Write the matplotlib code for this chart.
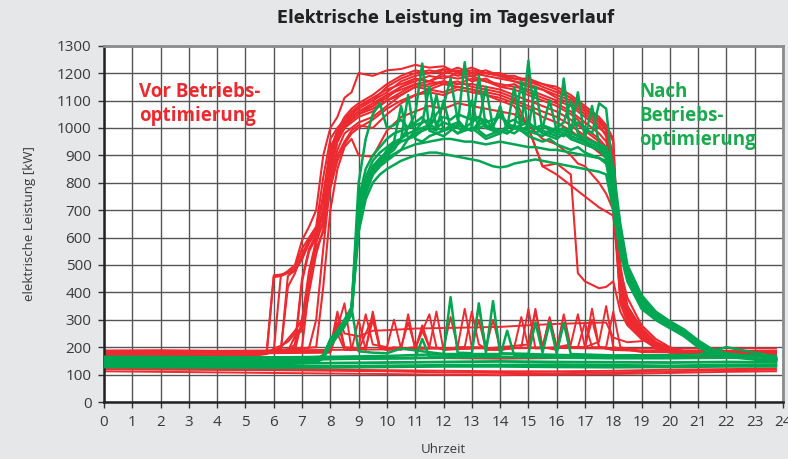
import matplotlib.pyplot as plt
import matplotlib.font_manager as fm

# colours
RED = '#ec2a2f'
GREEN = '#00a651'
BG = '#e6e7e9'

# ---------------- data (kW over the day) ----------------
# red = "Vor Betriebsoptimierung", workday profiles on a shared time grid
red_work_hours = [0, 3, 5.5, 5.75, 6, 6.25, 6.5, 6.75, 7, 7.25,
                  7.5, 7.75, 8, 8.25, 8.5, 8.75, 9, 9.5, 10, 10.5,
                  11, 11.5, 12, 12.5, 13, 13.5, 14, 14.5, 15, 15.5,
                  16, 16.5, 16.75, 17, 17.5, 17.75, 18, 18.25, 18.5, 19,
                  19.5, 20, 20.5, 21, 22, 23.75]
red_work_values = [
    [178, 176, 180, 185, 462, 465, 472, 490, 560, 600, 640, 820, 960, 1000, 1030, 1060, 1080, 1110, 1140, 1160,
     1180, 1170, 1190, 1180, 1190, 1170, 1160, 1150, 1140, 1120, 1100, 1080, 1060, 1040, 1000, 980, 700, 380, 320, 240,
     200, 185, 180, 178, 180, 178],
    [172, 170, 174, 176, 455, 460, 470, 480, 520, 580, 620, 760, 930, 980, 1010, 1040, 1060, 1090, 1120, 1150,
     1170, 1190, 1180, 1200, 1170, 1180, 1150, 1160, 1130, 1110, 1090, 1060, 1040, 1020, 980, 950, 860, 420, 330, 260,
     210, 190, 175, 172, 174, 172],
    [182, 182, 182, 180, 185, 190, 420, 470, 540, 590, 620, 700, 900, 980, 1020, 1050, 1070, 1100, 1130, 1170,
     1190, 1200, 1210, 1190, 1200, 1190, 1180, 1170, 1160, 1140, 1120, 1100, 1080, 1060, 1020, 990, 820, 400, 300, 240,
     195, 180, 178, 176, 182, 180],
    [176, 175, 178, 180, 185, 188, 190, 210, 450, 560, 610, 680, 880, 960, 1000, 1030, 1050, 1080, 1110, 1150,
     1180, 1170, 1200, 1210, 1190, 1200, 1190, 1170, 1150, 1140, 1110, 1090, 1070, 1050, 1010, 970, 760, 360, 290, 230,
     200, 185, 180, 176, 178, 176],
    [170, 168, 172, 175, 195, 205, 220, 250, 270, 400, 540, 630, 820, 920, 980, 1000, 1020, 1040, 1080, 1120,
     1150, 1160, 1170, 1160, 1180, 1170, 1150, 1140, 1120, 1100, 1080, 1050, 1030, 1000, 960, 930, 880, 480, 380, 280,
     230, 200, 185, 172, 170, 168],
    [184, 183, 185, 186, 188, 190, 192, 195, 195, 198, 300, 560, 800, 900, 950, 990, 1010, 1000, 1050, 1090,
     1120, 1140, 1130, 1150, 1140, 1130, 1120, 1100, 1080, 1060, 1040, 1010, 990, 970, 940, 920, 900, 500, 350, 260,
     210, 190, 185, 184, 185, 183],
    [180, 178, 180, 182, 185, 460, 478, 500, 590, 640, 700, 900, 1000, 1040, 1110, 1130, 1200, 1190, 1210, 1215,
     1230, 1220, 1225, 1200, 1210, 1200, 1190, 1180, 1170, 1150, 1130, 1110, 1090, 1070, 1030, 1000, 900, 450, 340, 250,
     205, 188, 182, 180, 181, 180],
    [175, 174, 176, 178, 180, 182, 185, 190, 200, 420, 600, 700, 860, 950, 1000, 1030, 1050, 1070, 1100, 1120,
     1150, 1140, 1160, 1150, 1140, 1120, 1100, 1080, 1000, 860, 870, 830, 470, 440, 415, 420, 440, 330, 280, 230,
     200, 185, 178, 175, 176, 175],
    [186, 185, 186, 186, 188, 190, 192, 194, 196, 198, 200, 420, 700, 850, 930, 960, 900, 895, 990, 1040,
     1060, 1080, 1070, 1090, 1080, 1070, 1060, 1050, 1010, 960, 940, 900, 870, 860, 800, 760, 700, 420, 340, 250,
     205, 190, 186, 186, 185, 186],
    [178, 177, 179, 180, 182, 184, 186, 240, 260, 430, 580, 660, 880, 970, 1010, 1040, 1060, 1080, 1120, 1140,
     1160, 1170, 1160, 1170, 1150, 1140, 1130, 1110, 1000, 860, 830, 790, 770, 750, 710, 695, 680, 450, 330, 260,
     215, 195, 182, 178, 179, 178],
    [174, 173, 175, 178, 180, 183, 460, 480, 530, 590, 630, 740, 920, 990, 1020, 1050, 1080, 1100, 1150, 1180,
     1200, 1210, 1200, 1220, 1200, 1210, 1190, 1190, 1170, 1160, 1140, 1110, 1090, 1070, 1030, 1000, 950, 420, 320, 250,
     200, 185, 176, 174, 175, 173],
    [180, 180, 181, 182, 184, 186, 188, 192, 440, 550, 600, 650, 840, 950, 1000, 1020, 1040, 1060, 1100, 1130,
     1160, 1150, 1170, 1160, 1160, 1150, 1140, 1120, 1100, 1080, 1060, 1030, 1010, 990, 950, 920, 900, 380, 300, 235,
     195, 182, 180, 180, 181, 180],
    [176, 175, 177, 178, 180, 182, 185, 188, 300, 480, 590, 700, 910, 990, 1040, 1070, 1090, 1120, 1160, 1190,
     1210, 1200, 1215, 1205, 1220, 1200, 1200, 1180, 1180, 1160, 1150, 1120, 1100, 1080, 1040, 1010, 960, 440, 350, 270,
     220, 195, 180, 176, 177, 176],
    [181, 180, 182, 183, 186, 200, 230, 260, 300, 450, 560, 620, 780, 880, 940, 980, 1000, 1030, 1070, 1100,
     1120, 1130, 1120, 1140, 1130, 1120, 1110, 1090, 1070, 1040, 1020, 990, 970, 950, 910, 890, 860, 400, 310, 245,
     205, 188, 182, 181, 182, 181],
]

# red weekend / holiday days (spiky, low)
red_weekend_hours = [
    [0, 6, 7.75, 8, 8.25, 8.5, 8.75, 9, 9.25, 9.5, 9.75, 10, 10.25, 10.5, 10.75, 11, 11.25, 11.5, 11.75, 12, 12.5,
     12.75, 13, 13.25, 13.5, 14, 14.5, 14.75, 15, 15.25, 15.5, 16, 16.25, 16.5, 17, 17.25, 17.5, 18, 18.5, 19, 20, 23.75],
    [0, 6, 8, 8.5, 8.75, 9, 9.25, 9.5, 10, 10.25, 10.5, 11, 11.25, 11.5, 12, 12.75, 13, 13.25, 13.5, 14, 14.5, 15,
     15.25, 15.5, 15.75, 16, 16.5, 16.75, 17, 17.5, 17.75, 18, 19, 23.75],
    [0, 6, 8, 8.25, 8.5, 9, 9.5, 10, 11, 12, 13, 14, 15, 16, 17, 17.75, 18, 18.5, 19, 19.25, 19.5, 20, 23.75],
    [0, 6, 8, 8.25, 8.5, 9, 9.5, 9.75, 10, 11, 11.5, 11.75, 12, 13, 13.25, 13.5, 14, 14.75, 15, 15.25, 16, 17, 17.25,
     17.5, 18, 19, 23.75],
    [0, 6, 8, 8.25, 8.5, 9.25, 9.5, 9.75, 10.5, 10.75, 11, 12, 12.25, 12.5, 13.5, 13.75, 14, 15.5, 15.75, 16, 16.75,
     17, 17.25, 17.75, 18, 18.25, 19, 23.75],
]
red_weekend_values = [
    [185, 186, 188, 200, 330, 200, 190, 300, 190, 330, 200, 190, 200, 190, 320, 190, 280, 200, 330, 190, 200,
     340, 200, 300, 190, 190, 200, 310, 200, 340, 200, 190, 320, 200, 200, 340, 200, 190, 195, 185, 185, 186],
    [178, 180, 182, 360, 190, 200, 320, 210, 200, 300, 195, 200, 260, 200, 195, 200, 330, 210, 195, 200, 205, 210,
     330, 200, 310, 200, 210, 320, 200, 220, 350, 200, 182, 180],
    [176, 178, 180, 320, 250, 240, 260, 262, 268, 270, 272, 274, 280, 285, 288, 290, 235, 218, 222, 233, 200, 185, 180],
    [184, 185, 186, 250, 190, 190, 310, 195, 190, 195, 320, 200, 190, 195, 350, 195, 190, 200, 340, 195, 200, 200, 300,
     200, 190, 186, 185],
    [182, 183, 185, 290, 200, 195, 300, 195, 200, 290, 200, 195, 310, 200, 200, 300, 195, 200, 300, 200, 200,
     290, 200, 200, 330, 200, 184, 182],
]

# red flat base-load lines over the whole day
red_base_hours = [0, 2, 4, 6, 8, 10, 12, 14, 16, 18, 20, 22, 23.75]
red_base_values = [
    [188, 189, 187, 188, 190, 192, 195, 196, 197, 195, 194, 196, 195],
    [120, 118, 117, 116, 114, 112, 108, 106, 105, 108, 112, 116, 118],
    [112, 110, 108, 106, 104, 102, 100, 98, 100, 102, 106, 110, 112],
    [168, 166, 165, 164, 162, 160, 160, 158, 160, 162, 166, 168, 170],
    [125, 123, 122, 120, 118, 116, 114, 112, 112, 114, 118, 120, 122],
]

# green = "Nach Betriebsoptimierung", workday profiles on a shared time grid
green_work_hours = [0, 3, 6, 7.5, 7.75, 8, 8.25, 8.5, 8.75, 9,
                    9.25, 9.5, 9.75, 10, 10.25, 10.5, 10.75, 11, 11.25, 11.5,
                    11.75, 12, 12.25, 12.5, 12.75, 13, 13.25, 13.5, 13.75, 14,
                    14.25, 14.5, 14.75, 15, 15.25, 15.5, 15.75, 16, 16.25, 16.5,
                    16.75, 17, 17.25, 17.5, 17.75, 18, 18.25, 18.5, 19, 19.5,
                    20, 20.5, 21, 21.5, 22, 23, 23.75]
green_work_values = [
    [150, 148, 145, 150, 165, 215, 250, 285, 330, 680, 790, 840, 870, 890, 905, 920, 930, 940, 945, 950,
     955, 960, 960, 955, 950, 950, 945, 940, 945, 950, 945, 940, 935, 930, 930, 925, 920, 920, 915, 910,
     905, 900, 895, 890, 880, 760, 580, 470, 360, 310, 280, 250, 210, 180, 170, 160, 155],
    [145, 143, 142, 148, 160, 210, 245, 280, 320, 720, 820, 880, 910, 930, 950, 960, 1000, 1050, 1235, 990,
     980, 990, 1000, 980, 990, 1100, 990, 970, 980, 990, 980, 1000, 1010, 1245, 1000, 980, 970, 960, 980, 960,
     950, 940, 930, 920, 900, 820, 620, 480, 370, 320, 290, 260, 220, 190, 175, 160, 150],
    [155, 152, 150, 152, 170, 225, 260, 295, 340, 650, 780, 850, 880, 900, 920, 960, 1120, 960, 950, 970,
     980, 970, 990, 1010, 1240, 1000, 980, 960, 970, 980, 1000, 1150, 990, 970, 960, 950, 960, 940, 930, 920,
     930, 910, 900, 890, 870, 740, 560, 450, 350, 300, 270, 245, 205, 180, 168, 158, 152],
    [148, 146, 144, 150, 162, 212, 250, 290, 335, 800, 960, 1050, 1090, 1000, 1010, 1030, 1000, 1020, 1040, 1000,
     1050, 1080, 1180, 1030, 1000, 1020, 1040, 1000, 1010, 1050, 1020, 1000, 990, 1010, 1000, 990, 980, 1000, 1020, 1100,
     980, 960, 950, 940, 920, 800, 600, 490, 380, 320, 285, 255, 215, 185, 172, 162, 156],
    [152, 150, 148, 151, 168, 220, 255, 290, 335, 700, 800, 860, 890, 910, 930, 950, 960, 980, 990, 1000,
     1120, 990, 1000, 1010, 1000, 990, 1020, 1150, 1000, 990, 980, 1000, 990, 980, 1000, 1010, 990, 980, 970, 1000,
     1020, 1000, 980, 1090, 1070, 820, 600, 470, 365, 315, 285, 255, 212, 182, 171, 161, 155],
    [146, 145, 143, 149, 163, 212, 248, 284, 328, 660, 770, 830, 860, 900, 950, 1080, 960, 970, 990, 1000,
     990, 1100, 1000, 980, 1000, 990, 1000, 1010, 1000, 1080, 990, 980, 1000, 990, 980, 1000, 1100, 990, 980, 970,
     960, 950, 940, 930, 910, 780, 590, 470, 360, 310, 280, 250, 210, 182, 170, 160, 154],
    [140, 138, 136, 145, 158, 205, 240, 275, 320, 620, 740, 800, 830, 850, 865, 880, 890, 900, 905, 910,
     910, 905, 900, 895, 890, 885, 880, 870, 860, 856, 860, 870, 875, 880, 885, 880, 875, 870, 865, 860,
     855, 850, 845, 840, 830, 700, 540, 440, 340, 300, 270, 240, 200, 176, 165, 155, 150],
    [158, 155, 152, 155, 172, 222, 258, 296, 345, 740, 850, 900, 930, 960, 980, 990, 1000, 1010, 1020, 1030,
     1020, 1040, 1030, 1050, 1040, 1030, 1040, 1020, 1030, 1040, 1020, 1030, 1010, 1020, 1000, 1010, 1000, 990, 1000, 980,
     970, 960, 950, 940, 930, 860, 650, 500, 390, 330, 295, 265, 225, 192, 178, 165, 158],
    [150, 149, 147, 150, 166, 218, 252, 288, 332, 690, 800, 850, 880, 920, 940, 960, 980, 990, 1000, 1010,
     1000, 1020, 1010, 1000, 990, 1000, 1190, 1000, 990, 980, 1000, 1010, 990, 1000, 1150, 990, 980, 970, 1180, 960,
     950, 940, 930, 920, 890, 760, 570, 460, 355, 305, 275, 248, 208, 180, 169, 159, 153],
    [144, 142, 140, 147, 160, 208, 244, 280, 325, 640, 760, 830, 860, 880, 900, 920, 960, 990, 1020, 1150,
     1000, 990, 1010, 1020, 1000, 990, 1010, 1030, 1000, 980, 1010, 1000, 1170, 990, 980, 970, 990, 1000, 990, 980,
     1130, 960, 1080, 940, 900, 770, 580, 460, 350, 305, 278, 250, 210, 180, 168, 157, 151],
]

# green weekend days
green_weekend_hours = [
    [0, 6, 8, 10, 12, 12.25, 12.5, 13, 13.25, 13.5, 13.75, 14, 15, 16, 18, 20, 22, 23.75],
    [0, 6, 7.75, 8, 8.25, 8.5, 8.75, 9, 9.5, 10, 10.5, 12, 15, 15.25, 15.5, 15.75, 16, 16.25, 16.5, 18, 21, 22, 23.75],
    [0, 6, 9, 11, 11.25, 11.5, 13, 14, 14.25, 14.5, 16, 18, 20, 22, 23.75],
]
green_weekend_values = [
    [165, 163, 165, 168, 175, 383, 180, 178, 360, 180, 368, 178, 175, 172, 168, 170, 172, 168],
    [160, 158, 165, 230, 260, 300, 345, 185, 180, 178, 195, 175, 175, 290, 180, 290, 178, 288, 175, 170, 172, 200, 165],
    [155, 153, 158, 160, 230, 165, 170, 168, 260, 170, 168, 165, 168, 175, 160],
]

# green flat base-load lines
green_base_hours = [0, 2, 4, 6, 8, 10, 12, 14, 16, 18, 20, 22, 23.75]
green_base_values = [
    [135, 133, 132, 130, 130, 132, 134, 135, 136, 134, 132, 135, 136],
    [145, 143, 142, 140, 142, 144, 146, 148, 146, 145, 144, 146, 145],
    [160, 158, 156, 155, 158, 160, 162, 164, 162, 160, 160, 162, 160],
    [128, 127, 126, 125, 126, 128, 130, 130, 128, 127, 128, 130, 130],
]

x_ticks = list(range(0, 25))
y_ticks = list(range(0, 1301, 100))

# ---------------- fonts ----------------
plt.rcParams['font.family'] = ['Open Sans', 'DejaVu Sans']

# ---------------- plot ----------------
fig = plt.figure(figsize=(7.88, 4.59), dpi=100, facecolor=BG)
ax = fig.add_axes([104 / 788, 1 - 402 / 459, 679 / 788, (402 - 45.7) / 459])
ax.set_facecolor('white')

for vals in red_base_values:
    ax.plot(red_base_hours, vals, color=RED, lw=1.4, zorder=2)
for hrs, vals in zip(red_weekend_hours, red_weekend_values):
    ax.plot(hrs, vals, color=RED, lw=1.4, zorder=2)
for vals in red_work_values:
    ax.plot(red_work_hours, vals, color=RED, lw=1.5, zorder=2)

for vals in green_base_values:
    ax.plot(green_base_hours, vals, color=GREEN, lw=2.0, zorder=3)
for hrs, vals in zip(green_weekend_hours, green_weekend_values):
    ax.plot(hrs, vals, color=GREEN, lw=1.8, zorder=3)
for vals in green_work_values:
    ax.plot(green_work_hours, vals, color=GREEN, lw=1.8, zorder=3)

ax.set_xlim(0, 24)
ax.set_ylim(0, 1300)
ax.set_xticks(x_ticks)
ax.set_yticks(y_ticks)
ax.grid(True, color='#555555', lw=1.0, zorder=0)
ax.set_axisbelow(True)
ax.tick_params(axis='both', direction='out', length=4, width=1, color='#333333',
               labelsize=11, labelcolor='#3a3a3a', pad=5)
for side in ['left', 'bottom']:
    ax.spines[side].set_color('#222222')
    ax.spines[side].set_linewidth(1.8)
for side in ['top', 'right']:
    ax.spines[side].set_color('#8c8c8c')
    ax.spines[side].set_linewidth(2)

ax.set_xlabel('Uhrzeit', fontsize=9.5, color='#3a3a3a', labelpad=10)
ax.set_ylabel('elektrische Leistung [kW]', fontsize=9.5, color='#3a3a3a', labelpad=15)

fig.text(0.565, 1 - 18 / 459, 'Elektrische Leistung im Tagesverlauf', ha='center', va='center',
         fontsize=13, fontweight='bold', fontstretch='condensed', color='#222222',
         family=['DejaVu Sans'])

fig.text(139 / 788, 1 - 82 / 459, 'Vor Betriebs-\noptimierung', ha='left', va='top',
         fontsize=13.5, fontweight='bold', color='#ea2a2f', linespacing=1.25)
fig.text(639 / 788, 1 - 82 / 459, 'Nach\nBetriebs-\noptimierung', ha='left', va='top',
         fontsize=13.5, fontweight='bold', color='#1aa94f', linespacing=1.25)

fig.savefig('out.png', dpi=100, facecolor=BG)
